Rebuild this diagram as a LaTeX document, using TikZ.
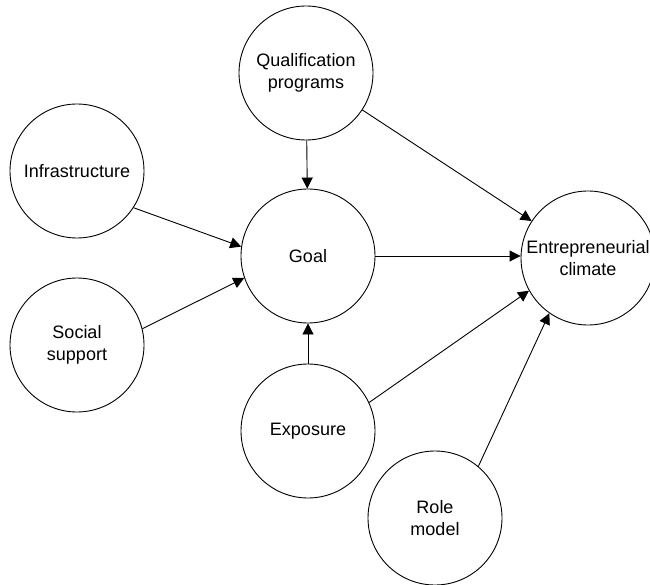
\documentclass[tikz,border=0pt]{standalone}
\usepackage{fontspec}
\setmainfont{Liberation Sans}
\usetikzlibrary{arrows.meta}
\begin{document}
\begin{tikzpicture}[x=1pt,y=-1pt,
  factor/.style={circle,draw,line width=0.9pt,minimum size=134pt,inner sep=0pt,align=center,
    font=\fontsize{18}{22}\selectfont},
  link/.style={line width=0.9pt,-{Triangle[length=11pt,width=11pt]}}]
\useasboundingbox (0,0) rectangle (650,585);
\node[factor] (qual) at (306,73) {Qualification\\programs};
\node[factor] (infra) at (77,171) {Infrastructure};
\node[factor] (social) at (77,345) {Social\\support};
\node[factor] (goal) at (308,256) {Goal};
\node[factor] (entre) at (588,258) {Entrepreneurial\\climate};
\node[factor] (expo) at (308,431) {Exposure};
\node[factor] (role) at (435,518) {Role\\model};
\draw[link] (qual) -- (goal);
\draw[link] (qual) -- (entre);
\draw[link] (infra.-33) -- (goal.172);
\draw[link] (social.14) -- (goal.199);
\draw[link] (goal.east) -- (goal.east -| entre.west);
\draw[link] (expo) -- (goal);
\draw[link] (expo.25) -- (entre.209);
\draw[link] (role.50) -- (entre.235);
\end{tikzpicture}
\end{document}
